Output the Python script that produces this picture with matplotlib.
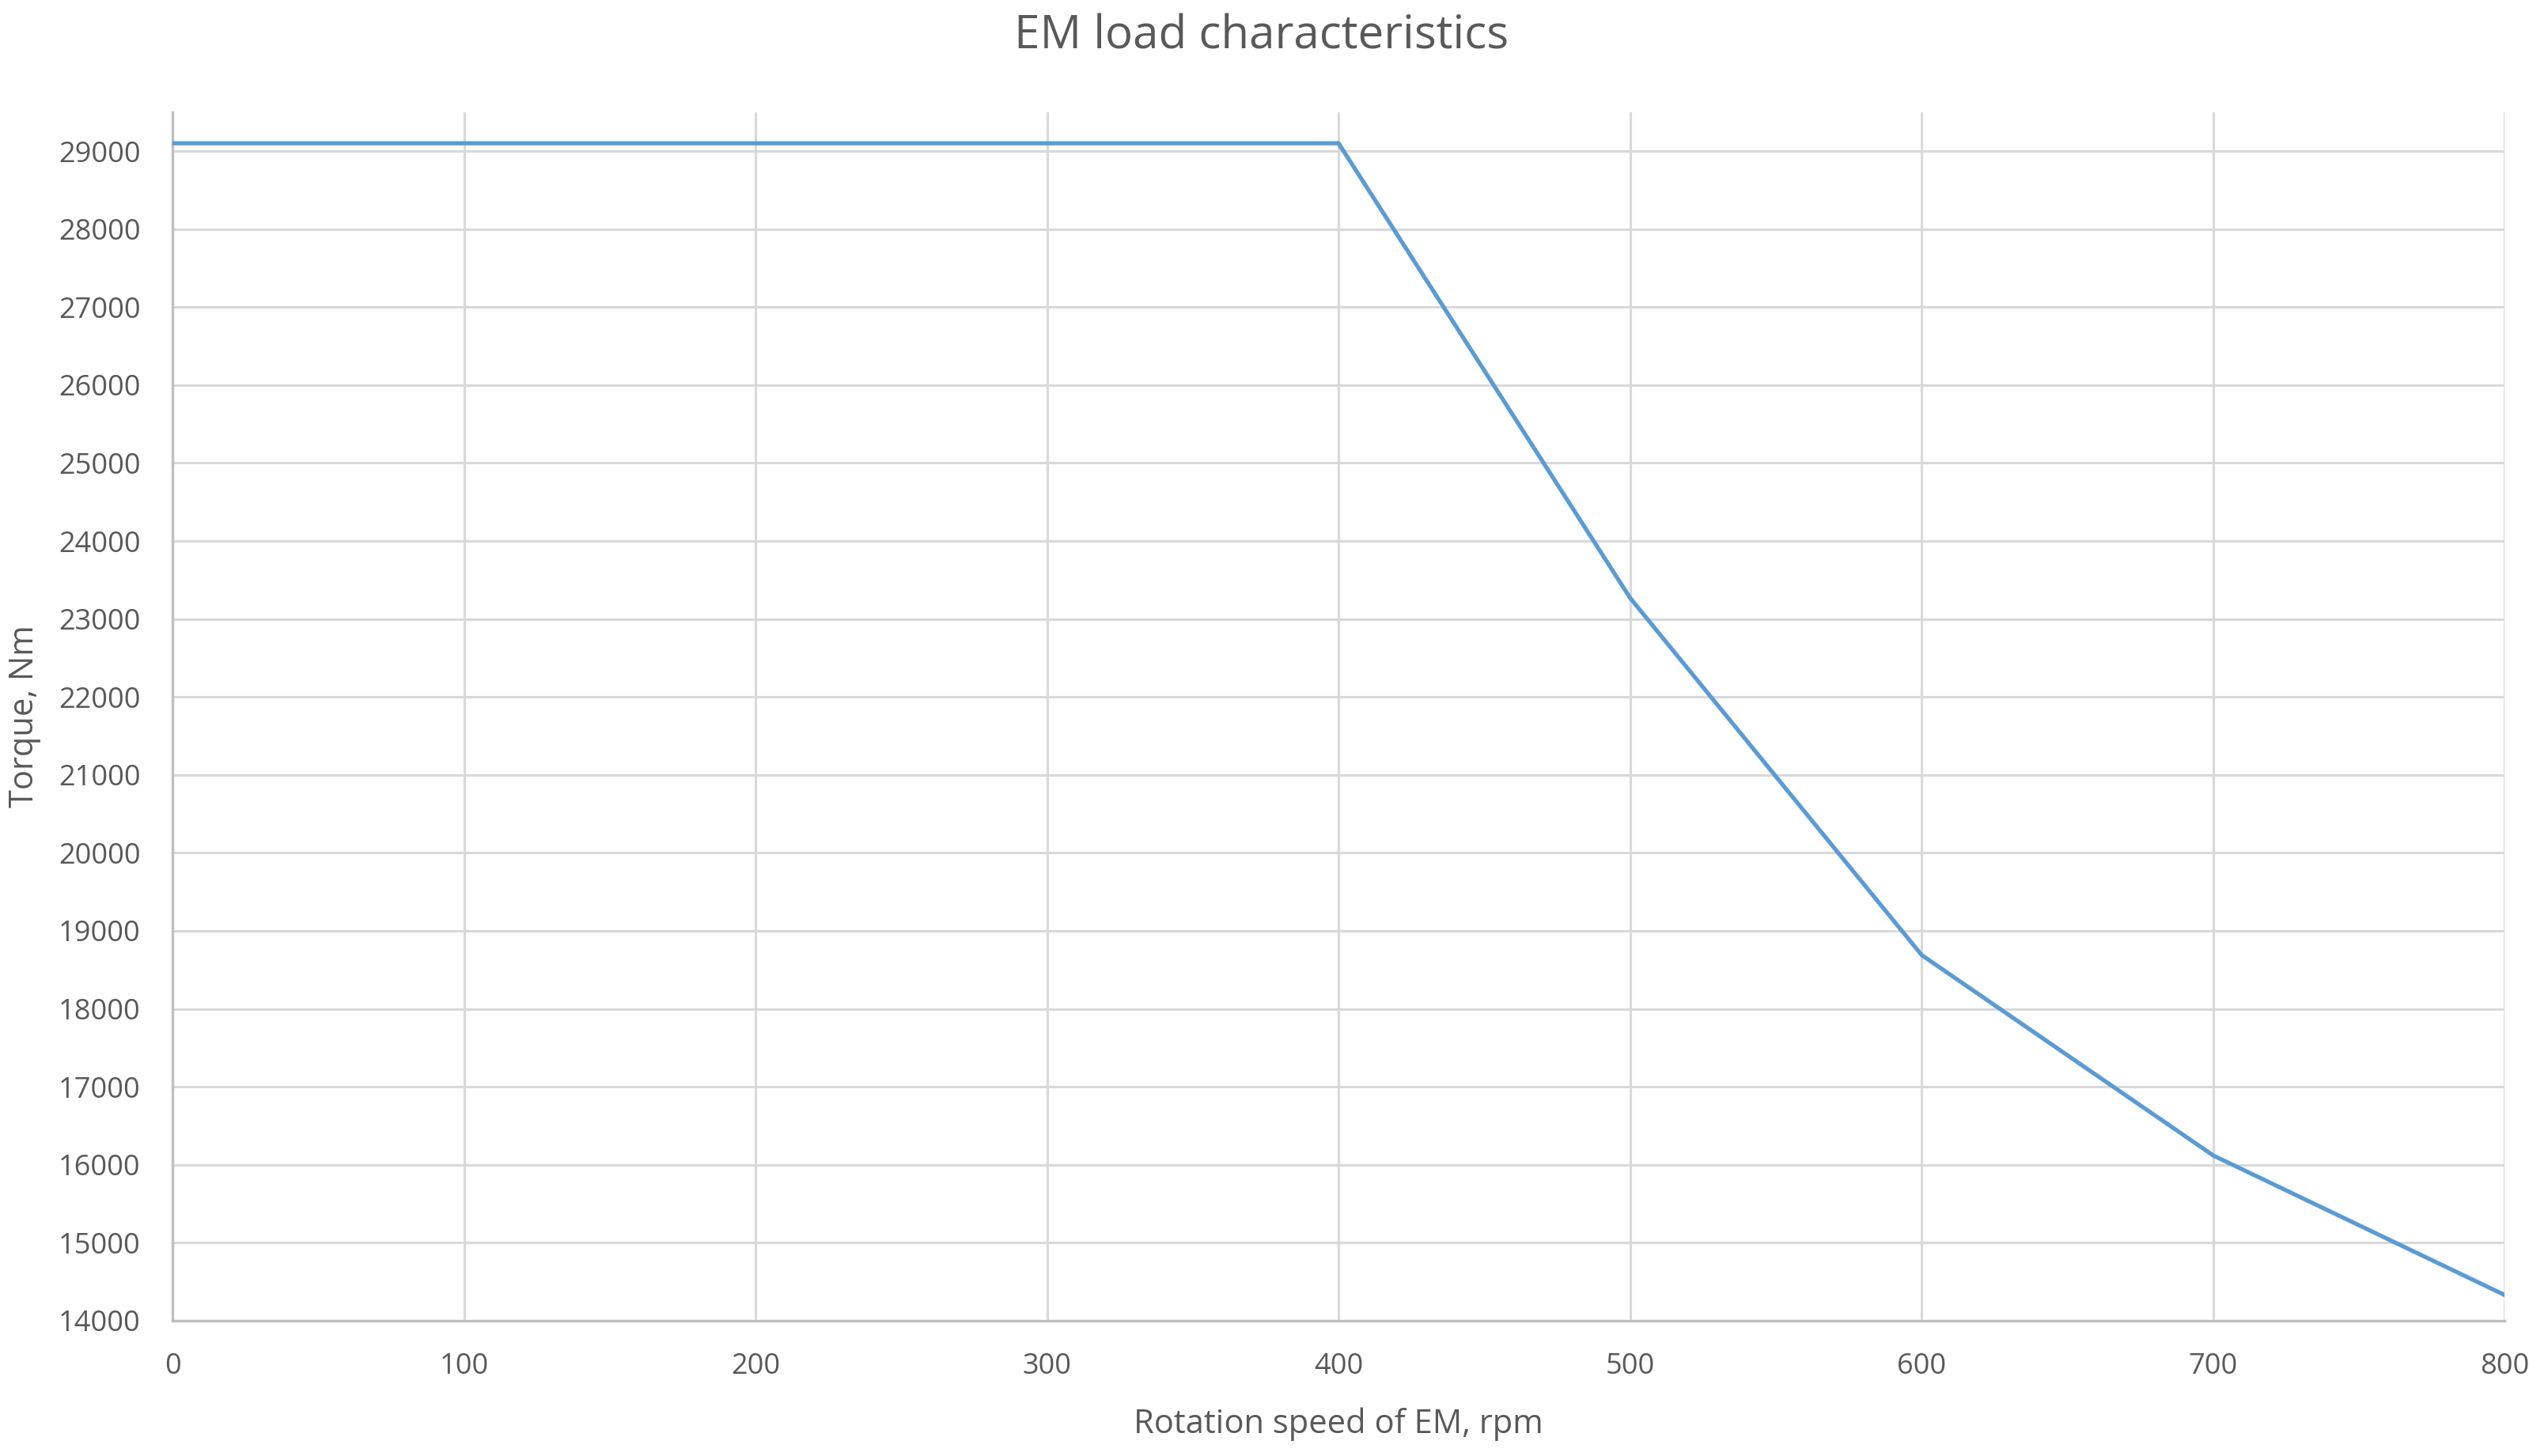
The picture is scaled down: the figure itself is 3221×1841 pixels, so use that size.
import matplotlib.pyplot as plt

# EM load characteristic: torque vs rotation speed
speed = [0, 100, 200, 300, 400, 500, 600, 700, 800]   # rpm
torque = [29100, 29100, 29100, 29100, 29100, 23270, 18690, 16120, 14330]   # Nm

x_ticks = [0, 100, 200, 300, 400, 500, 600, 700, 800]
y_ticks = list(range(14000, 30000, 1000))

line_color = '#5B9BD5'
text_color = '#595959'
grid_color = '#D9D9D9'
axis_color = '#BFBFBF'

plt.rcParams['font.family'] = ['Open Sans', 'DejaVu Sans']

fig = plt.figure(figsize=(32.21, 18.41), dpi=100)
ax = fig.add_axes([0.0677, 0.0929, 0.9153, 0.8301])

ax.plot(speed, torque, color=line_color, linewidth=3.8, solid_joinstyle='round', zorder=3)

ax.set_xlim(0, 800)
ax.set_ylim(14000, 29500)
ax.set_xticks(x_ticks)
ax.set_yticks(y_ticks)
ax.grid(True, color=grid_color, linewidth=2.2)
ax.set_axisbelow(True)

for side in ['top', 'right']:
    ax.spines[side].set_visible(False)
for side in ['left', 'bottom']:
    ax.spines[side].set_color(axis_color)
    ax.spines[side].set_linewidth(2.4)

ax.tick_params(length=0, pad=29, labelsize=26, labelcolor=text_color)

ax.set_xlabel('Rotation speed of EM, rpm', fontsize=30, color=text_color, labelpad=24)
ax.set_ylabel('Torque, Nm', fontsize=30, color=text_color, labelpad=16)
fig.text(0.495, 0.975, 'EM load characteristics', fontsize=42, color=text_color,
         ha='center', va='center')

fig.savefig('out.png', dpi=100, facecolor='white')
